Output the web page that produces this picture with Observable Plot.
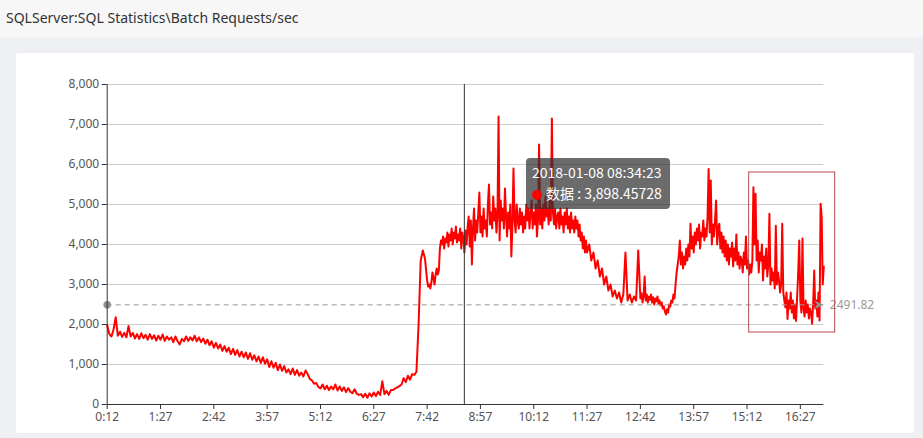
<!DOCTYPE html>
<html><head><meta charset="utf-8">
<script src="https://cdn.jsdelivr.net/npm/d3@7"></script>
<script src="https://cdn.jsdelivr.net/npm/@observablehq/plot@0.6"></script>
<style>
html,body{margin:0;padding:0;}
body{width:923px;height:438px;position:relative;overflow:hidden;background:#eef0f3;font-family:"Noto Sans",sans-serif;}
#titlebar{position:absolute;left:0;top:0;width:923px;height:37px;background:#f7f7f7;}
#title{position:absolute;left:6px;top:8px;font-size:14px;color:#333;white-space:nowrap;}
#panel{position:absolute;left:16px;top:53px;width:898px;height:380px;background:#fff;border-radius:3px;}
#chart{position:absolute;left:0;top:0;}
#tip{position:absolute;left:526px;top:158px;width:144px;height:51px;background:rgba(50,50,50,0.72);border-radius:4px;color:#fff;font-family:"Noto Sans CJK SC",sans-serif;font-size:14px;line-height:21px;box-sizing:border-box;padding:4px 0 0 6px;white-space:nowrap;}
#tip .dot{display:inline-block;width:10px;height:10px;border-radius:5px;background:#ff0000;margin-right:4px;vertical-align:-1px;}
</style>
</head><body>
<div id="titlebar"><div id="title">SQLServer:SQL Statistics\Batch Requests/sec</div></div>
<div id="panel"></div>
<div id="chart"></div>
<div id="tip"><div id="tipTime"></div><div><span class="dot"></span><span id="tipValue"></span></div></div>
<script>
// Night: one value every 3 minutes from 00:12
const values0012 = [1980,1760,1700,1880,2180,1720,1820,1690,1790,1680,
1960,1700,1790,1650,1760,1640,1780,1660,1740,1620,
1760,1640,1730,1600,1720,1620,1750,1590,1700,1620,
1680,1560,1700,1580,1500,1640,1580,1700,1590,1680,
1600,1720,1580,1680,1560,1650,1520,1620,1480,1580];
const values0242 = [1420,1540,1400,1500,1340,1460,1320,1420,1260,1390,
1240,1360,1200,1320,1180,1300,1140,1280,1120,1230,
1080,1200,1040,1180,1020,1130,940,1080,920,1040,
860,1000,840,960,800,880,760,900,740,860,
720,800,700,850,760,640,600,520,540,440];
const values0512 = [400,500,380,470,360,450,380,500,350,450,
340,430,310,410,320,280,380,270,240,260,
180,270,170,280,200,300,210,320,240,580,
260,340,240,360,360,400,430,460,500,660,
560,720,620,760,740,820,2000,3600,3850,3650];
// Morning peak: one value every 1.5 minutes from 07:42
const values0742 = [3100,2950,3000,2900,3050,3300,3150,3000,3250,3400,
3250,3350,3900,4100,4000,4200,3900,4150,4050,4300,
3950,4250,4100,4400,4000,4300,4150,4450,4050,4250,
4100,4400,3900,4300,4150,3800,4350,4000,4450,4700,
3950,4600,3500,4400,4900,4100,4600,4300,4800,5300,
4300,4700,4200,4900,4400,4600,4200,5000,5500,4500,
4800,4400,5200,4600,4900,4300,4700,7200,4100,5100,
4600,4900,4400,5400,4700,4200,4800,4400,5000,3700,
4500,5900,4600,4300,5000,4600,4400,4900,4500,4800,
4300,4700,4400,5000,4600,4900,4400,4800,5100,4400,
4800,4500,5000,4200,4600,6500,4500,4900,4400,5000,
4600,5200,4700,4900,4500,5100,4600,7150,4800,4500,
4900,4400,4700,4800,4400,4900,4500,4700,4300,4800,
4500,4900,4400,4700,4300,4800,4400,4600,4300,4700,
4400,4600,4200,4500,4100,4300,3900,4200,3800,4100];
// Midday decline: one value every 3 minutes from 11:27
const values1127 = [3800,4000,3600,3800,3400,3600,3200,3400,3000,3200,
2850,3000,2700,2850,2650,2800,2550,2750,3800,2600,
2750,2550,2700,2600,3850];
// Afternoon: one value every 1.5 minutes from 12:42
const values1242 = [2650,2780,2550,2700,3200,2600,2750,2550,2700,2620,
2750,2550,2680,2500,2650,2580,2700,2520,2600,2480,
2550,2400,2450,2320,2250,2380,2300,2500,2450,2600,
2550,2750,2650,3000,3300,3500,3700,4100,3500,3800,
3400,3700,3500,3900,3600,4000,3700,4520,3900,4200,
3800,4300,4000,4400,4100,4500,3900,4300,4200,4600,
4100,4400,4200,4700,5890,4300,5600,4000,4500,4200,
4600,5100,4000,4400,4520,3900,4300,3800,4200,3700,
4100,3600,4000,3500,3900,3700,4050,3450,3900,3600,
4250,3500,3800,3400,3700,3600,3300,3800,3500,4200,
3400,3600,3250,3500,3300,3600,5430,4000,5270,3600,
4100,3300,3800,3600,4000,3100,3700,3400,3900,3200,
3500,4770,3000,3400,3100,3300,2900,4470,3000,3300,
3100,2800,3000,4520,2800,2600,2430,2800,2140,2600,
2400,2800,2300,2600,2150,2500,2090,2700,3300,4100,
2600,2300,4150,2400,2200,2600,2300,2500,2150,2400,
2300,2020,2500,3350,2400,2600,2200,2800,2100,5020,
4700,3000,3450];

const segments = [
  {start: "0:12", stepMinutes: 3, values: [].concat(values0012, values0242, values0512)},
  {start: "7:42", stepMinutes: 1.5, values: values0742},
  {start: "11:27", stepMinutes: 3, values: values1127},
  {start: "12:42", stepMinutes: 1.5, values: values1242}
];

const yTicks = [0,1000,2000,3000,4000,5000,6000,7000,8000];
const xTickLabels = ["0:12","1:27","2:42","3:57","5:12","6:27","7:42","8:57","10:12","11:27","12:42","13:57","15:12","16:27"];
const xDomain = ["0:12", "17:00"];
const markLineValue = 2491.82;
const tooltipTime = "2018-01-08 08:34:23";
const tooltipValue = 3898.45728;
const highlightBox = {t1: "15:15", t2: "17:16", v1: 1800, v2: 5800};

const atTime = s => { const [h, m] = s.split(":").map(Number); return new Date(2018, 0, 8, h, m); };
const data = segments.flatMap(seg => {
  const t0 = atTime(seg.start).getTime();
  return seg.values.map((v, i) => ({t: new Date(t0 + i * seg.stepMinutes * 60000), v}));
});
const startTime = atTime(xDomain[0]);
const endTime = atTime(xDomain[1]);
const xTicks = xTickLabels.map(atTime);
const tipDate = new Date(2018, 0, 8, 8, 34, 23);
const box = {x1: atTime(highlightBox.t1), x2: atTime(highlightBox.t2), y1: highlightBox.v1, y2: highlightBox.v2};
const fmtTime = d => `${d.getHours()}:${String(d.getMinutes()).padStart(2, "0")}`;

const arrowSymbol = {
  draw(ctx, size) {
    const s = Math.sqrt(size) / 2;
    ctx.moveTo(0, 0);
    ctx.lineTo(-2.4 * s, -1.1 * s);
    ctx.lineTo(-1.7 * s, 0);
    ctx.lineTo(-2.4 * s, 1.1 * s);
    ctx.closePath();
  }
};

const chart = Plot.plot({
  width: 923,
  height: 438,
  marginLeft: 106.7,
  marginRight: 99.7,
  marginTop: 84,
  marginBottom: 34,
  style: {background: "transparent", fontFamily: "Noto Sans", fontSize: "12px", color: "#555", overflow: "visible"},
  x: {type: "time", domain: [startTime, endTime]},
  y: {domain: [0, 8000]},
  marks: [
    Plot.gridY(yTicks, {stroke: "#cccccc", strokeOpacity: 1}),
    Plot.line(data, {x: "t", y: "v", stroke: "#ff0000", strokeWidth: 2, strokeLinejoin: "round"}),
    Plot.ruleX([tipDate], {stroke: "#333", strokeWidth: 1}),
    Plot.ruleY([markLineValue], {x1: startTime, x2: endTime, stroke: "#999", strokeDasharray: "5,4", strokeWidth: 1}),
    Plot.dot([markLineValue], {x: startTime, y: d => d, r: 3.8, fill: "#909090", stroke: "none"}),
    Plot.dot([markLineValue], {x: endTime, y: d => d, symbol: arrowSymbol, r: 4.5, fill: "#909090", stroke: "none"}),
    Plot.text([markLineValue], {x: endTime, y: d => d, text: d => String(d), dx: 6, textAnchor: "start", fill: "#999", fontSize: 12}),
    Plot.rect([box], {x1: "x1", x2: "x2", y1: "y1", y2: "y2", fill: "none", stroke: "#b94a48", strokeWidth: 1}),
    Plot.axisY(yTicks, {tickSize: 5, tickPadding: 3, tickFormat: d3.format(","), label: null, stroke: "#333", fill: "#555"}),
    Plot.axisX(xTicks, {tickSize: 5, tickPadding: 3, tickFormat: fmtTime, label: null, stroke: "#333", fill: "#555"}),
    Plot.ruleX([startTime], {stroke: "#333", strokeWidth: 1}),
    Plot.ruleY([0], {stroke: "#333", strokeWidth: 1})
  ]
});
document.getElementById("chart").appendChild(chart);
document.getElementById("tipTime").textContent = tooltipTime;
document.getElementById("tipValue").textContent = "数据 : " + d3.format(",.5f")(tooltipValue);
</script>
</body></html>
